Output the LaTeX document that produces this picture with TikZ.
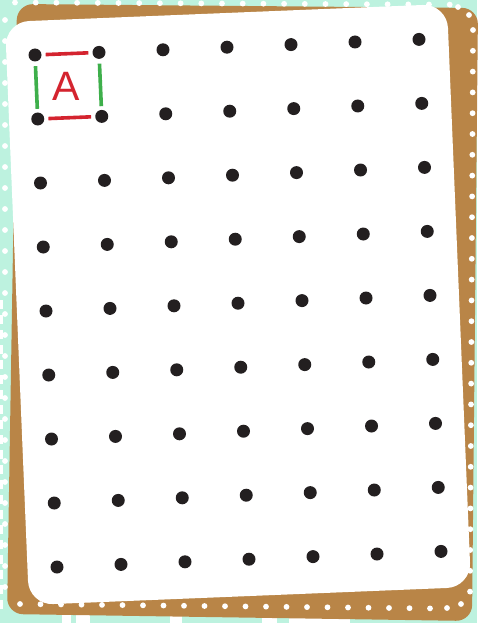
\documentclass[tikz,border=0pt]{standalone}
\usepackage{fontspec}
\setmainfont{Liberation Sans}
\definecolor{mint}{HTML}{BDF2DF}
\definecolor{cardbrown}{HTML}{B98547}
\definecolor{pinred}{HTML}{D4242F}
\definecolor{pingreen}{HTML}{3EAF4B}
\definecolor{pinblack}{HTML}{231F20}
\tikzset{
  pegdot/.style={circle, fill=pinblack, inner sep=0pt, minimum size=13pt},
  redband/.style={draw=pinred, line width=3.6pt, shorten <=4pt, shorten >=4pt},
  greenband/.style={draw=pingreen, line width=3.6pt, shorten <=4.5pt, shorten >=3.5pt},
  hole/.style={fill=white},
}
\begin{document}
\begin{tikzpicture}[x=1pt,y=-1pt]
\useasboundingbox (0,0) rectangle (477,623);
% background
\fill[mint] (0,0) rectangle (477,623);
\fill[white] (62,613) rectangle (71,623);
\fill[white] (76,613) rectangle (90,623);
\fill[white] (170,613) rectangle (182,623);
\fill[white] (262,613) rectangle (277,623);
\fill[white] (289,616) rectangle (350,623);
\draw[white, line width=3pt, dash pattern=on 9pt off 6pt] (1.5,300) -- (1.5,612);
% brown card
\fill[cardbrown, rounded corners=16pt] (17,4) -- (478,8) -- (472,621) -- (7,614) -- cycle;
% holes along the border
\foreach \k in {0,...,21} \fill[hole] ({15+20.7*\k},{2.5+0.1*\k}) circle (2.9pt);
\fill[hole] (458,7) circle (2.9pt);
\fill[hole] (469,15) circle (2.9pt);
\foreach \k in {0,...,27} \fill[hole] ({473-0.11*\k},{30+20.8*\k}) circle (2.9pt);
\foreach \k in {0,...,27} \fill[hole] (5,{20+21*\k}) circle (2.9pt);
\foreach \k in {0,...,20} \fill[hole] ({20+20.5*\k},{604+0.22*\k}) circle (2.9pt);
\fill[hole] (447,608) circle (2.9pt);
\fill[hole] (461,604) circle (2.9pt);
% white card
\fill[white, rounded corners=24pt] (5,22) -- (447,4) -- (471,587) -- (29,605) -- cycle;
% pegs
\foreach \i in {0,...,6}
  \foreach \j in {0,...,8}
    \node[pegdot] (d-\i-\j) at ({35+64*\i+2.75*\j},{55-2.6*\i+64*\j}) {};
% bands
\draw[redband] (d-0-0) -- (d-1-0);
\draw[redband] (d-0-1) -- (d-1-1);
\draw[greenband] (d-0-0) -- (d-0-1);
\draw[greenband] (d-1-0) -- (d-1-1);
\node[text=pinred, inner sep=0pt, font=\fontsize{41}{41}\selectfont] (lbl) at (66,86) {A};
\end{tikzpicture}
\end{document}
